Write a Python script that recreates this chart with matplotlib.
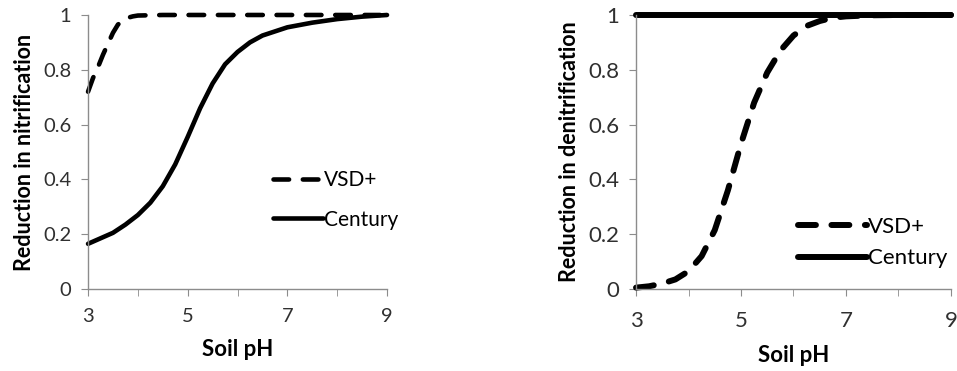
import matplotlib
matplotlib.use("Agg")
from matplotlib import pyplot as plt

plt.rcParams['font.family'] = ['Lato', 'DejaVu Sans']

# left panel: nitrification
ph_vsd_n = [3.0, 3.1, 3.2, 3.3, 3.4, 3.5, 3.6, 3.7, 3.8, 3.9, 4.0, 4.5, 5.0, 6.0, 7.0, 8.0, 9.0]
vsd_n = [0.72, 0.77, 0.81, 0.855, 0.895, 0.935, 0.965, 0.98, 0.99, 0.995, 0.998, 1.0, 1.0, 1.0, 1.0, 1.0, 1.0]
ph_cen_n = [3.0, 3.25, 3.5, 3.75, 4.0, 4.25, 4.5, 4.75, 5.0, 5.25, 5.5, 5.75, 6.0, 6.25, 6.5, 7.0, 7.5, 8.0, 8.5, 9.0]
cen_n = [0.165, 0.185, 0.205, 0.235, 0.27, 0.315, 0.375, 0.455, 0.555, 0.66, 0.75, 0.82, 0.865, 0.9, 0.925, 0.955, 0.972, 0.985, 0.994, 1.0]

# right panel: denitrification
ph_vsd_d = [3.0, 3.25, 3.5, 3.75, 4.0, 4.25, 4.5, 4.75, 5.0, 5.25, 5.5, 5.75, 6.0, 6.25, 6.5, 6.75, 7.0, 7.5, 8.0, 9.0]
vsd_d = [0.005, 0.01, 0.02, 0.035, 0.065, 0.12, 0.215, 0.36, 0.53, 0.68, 0.79, 0.87, 0.925, 0.96, 0.978, 0.99, 0.995, 0.999, 1.0, 1.0]
ph_cen_d = [3.0, 9.0]
cen_d = [1.0, 1.0]

xticks = [3, 5, 7, 9]
yticks = [0, 0.2, 0.4, 0.6, 0.8, 1]
ylabels = ['0', '0.2', '0.4', '0.6', '0.8', '1']

fig = plt.figure(figsize=(9.57, 3.71), dpi=100)
ax1 = fig.add_axes([0.092, 0.221, 0.3124, 0.7386])
ax2 = fig.add_axes([0.6646, 0.221, 0.3291, 0.7386])

ax1.plot(ph_vsd_n, vsd_n, color='black', lw=3.3, dashes=(3.4, 3.0),
         dash_capstyle='round', label='VSD+', clip_on=False)
ax1.plot(ph_cen_n, cen_n, color='black', lw=3.3, solid_capstyle='round',
         label='Century', clip_on=False)

ax2.plot(ph_vsd_d, vsd_d, color='black', lw=4.3, dashes=(3.0, 2.6),
         dash_capstyle='round', label='VSD+', clip_on=False)
ax2.plot(ph_cen_d, cen_d, color='black', lw=4.3, solid_capstyle='round',
         label='Century', clip_on=False)

for ax, fs, ylab, lfs, pad in [(ax1, 14.5, 'Reduction in nitrification', 15.5, 9),
                               (ax2, 16, 'Reduction in denitrification', 15.5, 11)]:
    ax.set_xlim(3, 9)
    ax.set_ylim(0, 1)
    ax.set_xticks(xticks)
    ax.set_xticks([4, 6, 8], minor=True)
    ax.set_yticks(yticks)
    ax.set_yticklabels(ylabels)
    for s in ['top', 'right']:
        ax.spines[s].set_visible(False)
    for s in ['left', 'bottom']:
        ax.spines[s].set_color('#8c8c8c')
        ax.spines[s].set_linewidth(1)
    ax.tick_params(which='both', direction='out', length=5, color='#8c8c8c',
                   labelcolor='#303030', labelsize=fs)
    ax.tick_params(axis='x', pad=pad)
    ax.tick_params(axis='y', pad=7)
    ax.set_xlabel('Soil pH', fontsize=16, fontweight='bold', labelpad=10)
    ax.set_ylabel(ylab, fontsize=lfs, fontweight='bold', labelpad=6)

ax1.legend(loc='upper left', bbox_to_anchor=(0.619, 0.435), frameon=False,
           fontsize=15, handlelength=2.4, handletextpad=0.05, labelspacing=0.95,
           borderaxespad=0, borderpad=0)
ax2.legend(loc='upper left', bbox_to_anchor=(0.514, 0.262), frameon=False,
           fontsize=16, handlelength=3.1, handletextpad=0.05, labelspacing=0.5,
           borderaxespad=0, borderpad=0)

fig.savefig('out.png', dpi=100)
